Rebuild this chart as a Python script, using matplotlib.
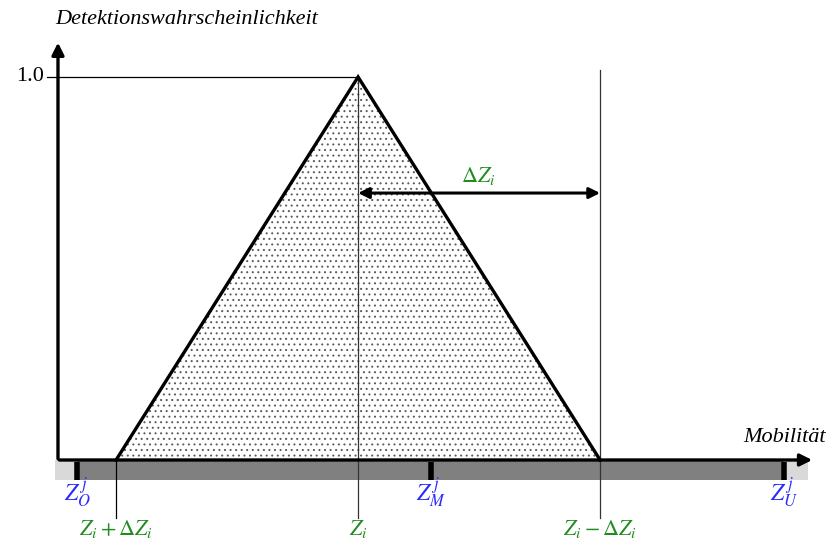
import numpy as np
import matplotlib.pyplot as plt

plt.rcParams['font.family'] = ['Liberation Serif', 'DejaVu Serif']
plt.rcParams['mathtext.fontset'] = 'stix'
plt.rcParams['hatch.color'] = '#5a5a5a'
plt.rcParams['hatch.linewidth'] = 0.7

# mobility values (arbitrary units)
z_i = 6.2
delta_z = 5.0
z_marks = [0.4, 7.7, 15.0]
z_mark_labels = [r'$Z_O^{\,j}$', r'$Z_M^{\,j}$', r'$Z_U^{\,j}$']
band_range = [-0.06, 15.5]
peak = 1.0

green = '#1f8c1f'
blue = '#2a2aff'

fig = plt.figure(figsize=(8.3, 5.51), dpi=100)
ax = fig.add_axes([0, 0, 1, 1])
ax.set_xlim(-1.198, 15.95)
ax.set_ylim(-0.2376, 1.201)
ax.axis('off')

# grey band under the axis
band_h = 0.052
ax.fill_between(band_range, -band_h, 0, color='#d9d9d9', lw=0, zorder=1)
ax.fill_between([z_marks[0], z_marks[-1]], -band_h, 0, color='#808080', lw=0, zorder=2)
for zm, lab in zip(z_marks, z_mark_labels):
    ax.plot([zm, zm], [-0.005, -band_h], color='black', lw=4, solid_capstyle='butt', zorder=3)
    ax.text(zm, -0.106, lab, color=blue, fontsize=17, ha='center', va='baseline')

# triangular detection probability
tri_x = [z_i - delta_z, z_i, z_i + delta_z]
tri_y = [0, peak, 0]
ax.fill(tri_x, tri_y, facecolor='white', hatch='...', edgecolor='#5a5a5a', lw=0, zorder=2)
ax.plot(tri_x, tri_y, color='black', lw=2.4, solid_joinstyle='miter', zorder=4)

# axes with arrows
ax.annotate('', xy=(0, 1.097), xytext=(0, -0.004),
            arrowprops=dict(arrowstyle='-|>', lw=2.4, color='black', mutation_scale=18), zorder=5)
ax.annotate('', xy=(15.64, 0), xytext=(-0.03, 0),
            arrowprops=dict(arrowstyle='-|>', lw=2.4, color='black', mutation_scale=18), zorder=5)
ax.text(2.65, 1.149, 'Detektionswahrscheinlichkeit', fontsize=16, style='italic', ha='center', va='center')
ax.text(15.02, 0.06, 'Mobilität', fontsize=16, style='italic', ha='center', va='center')

# 1.0 level
ax.plot([-0.23, z_i], [peak, peak], color='black', lw=0.9, zorder=3)
ax.text(-0.29, peak, '1.0', fontsize=16, ha='right', va='center')

# guide lines down to the labels
y_low = -0.151
ax.plot([z_i, z_i], [peak, y_low], color='#333333', lw=0.9, zorder=3)
ax.plot([z_i + delta_z, z_i + delta_z], [1.018, y_low], color='#333333', lw=0.9, zorder=3)
ax.plot([z_i - delta_z, z_i - delta_z], [0, y_low], color='black', lw=0.9, zorder=3)

labels = [r'$Z_i+\Delta Z_i$', r'$Z_i$', r'$Z_i-\Delta Z_i$']
for xv, lab in zip(tri_x, labels):
    ax.text(xv, -0.196, lab, color=green, fontsize=16, ha='center', va='baseline')

# width arrow
y_arr = 0.697
ax.annotate('', xy=(z_i, y_arr), xytext=(z_i + delta_z, y_arr),
            arrowprops=dict(arrowstyle='<|-|>', lw=2.2, color='black', mutation_scale=16,
                            shrinkA=0, shrinkB=0), zorder=5)
ax.text(z_i + 2.48, 0.726, r'$\Delta Z_i$', color=green, fontsize=16, ha='center', va='baseline')

fig.savefig('out.png', dpi=100)
